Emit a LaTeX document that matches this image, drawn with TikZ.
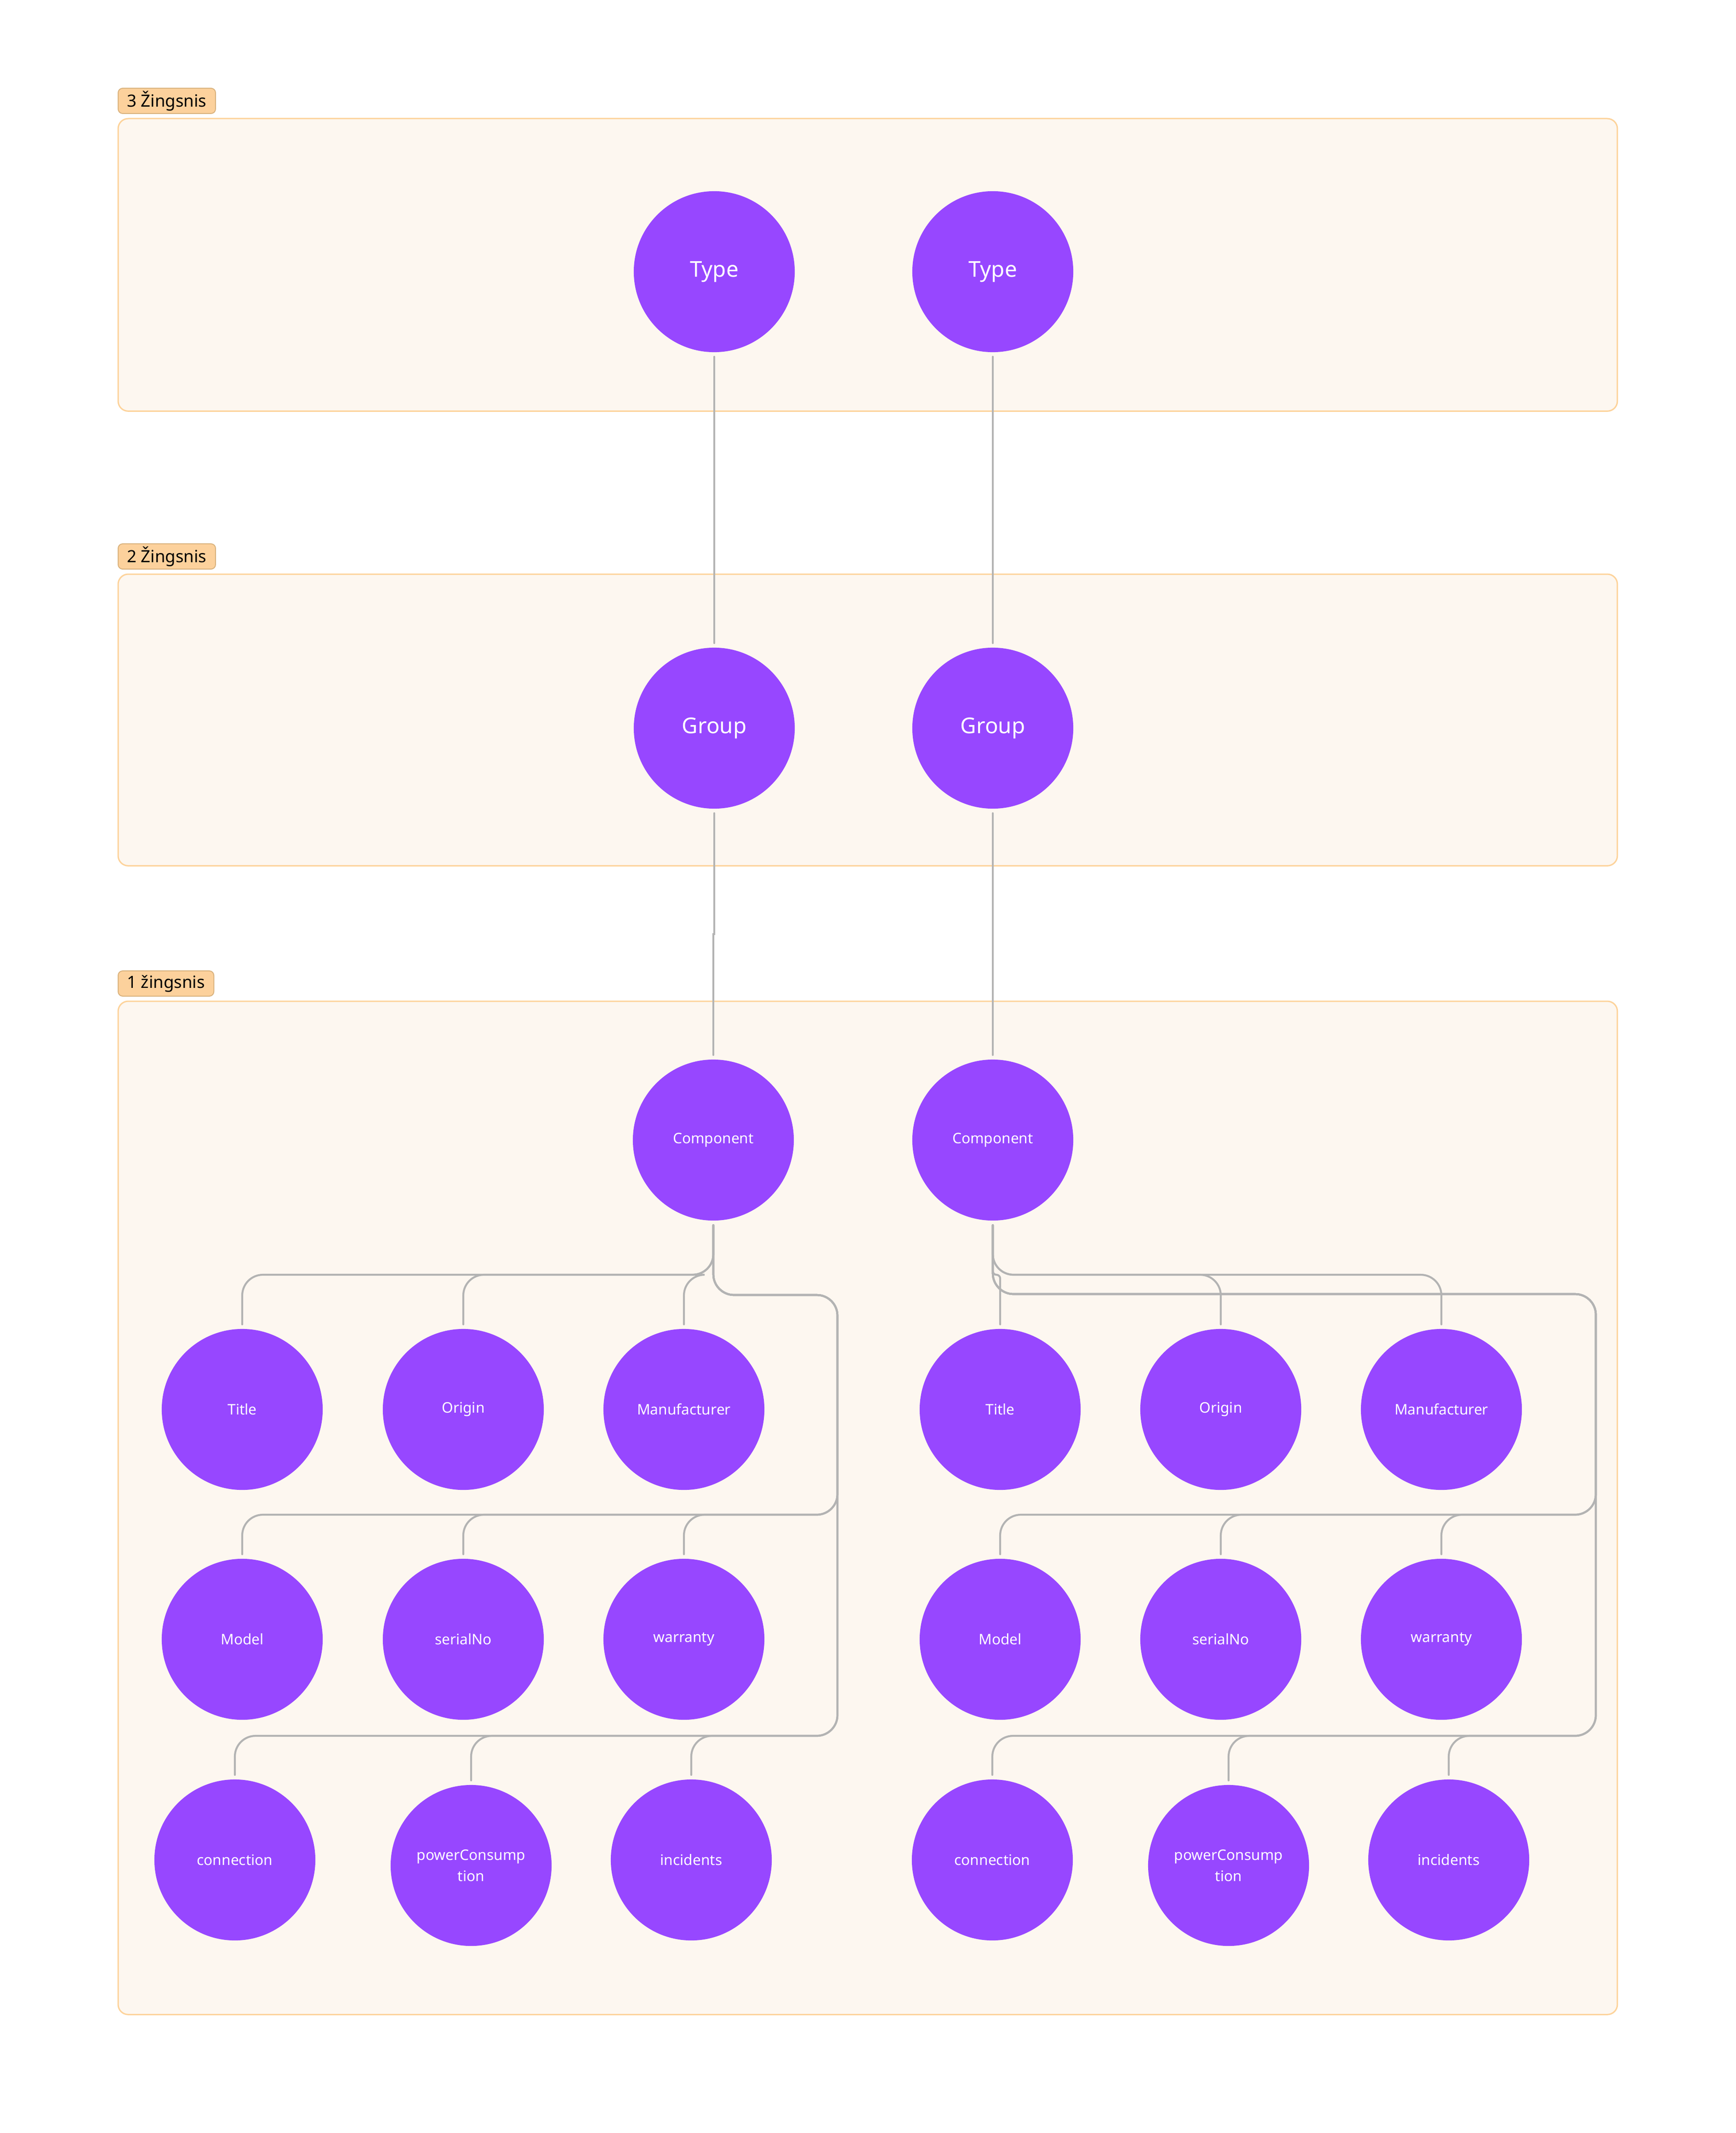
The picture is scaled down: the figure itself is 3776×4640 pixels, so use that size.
\documentclass[tikz,border=0pt]{standalone}
\usepackage{fontspec}
\setmainfont{Noto Sans}
\usetikzlibrary{positioning,calc}
\definecolor{nodeviolet}{HTML}{9747FF}
\definecolor{linkgray}{HTML}{B3B3B3}
\definecolor{framefill}{HTML}{FDF7F0}
\definecolor{frameline}{HTML}{FDD39B}
\definecolor{tagfill}{HTML}{FCD19C}
\definecolor{tagline}{HTML}{D9B27D}

\begin{document}
\begin{tikzpicture}[
  x=0.01cm, y=-0.01cm,
  every node/.style={font=\fontsize{9}{13}\selectfont},
  frame/.style={rectangle, draw=frameline, fill=framefill, line width=0.03cm, rounded corners=0.22cm, anchor=north west, minimum width=32.6cm, inner sep=0, outer sep=0},
  tag/.style={rectangle, draw=tagline, fill=tagfill, line width=0.02cm, rounded corners=0.1cm, inner xsep=0.195cm, inner ysep=0, minimum height=0.55cm, outer sep=0, text=black, font=\fontsize{10.4}{12}\selectfont},
  bubble/.style={circle, fill=nodeviolet, minimum size=3.5cm, inner sep=0, outer sep=0.1cm, text=white, align=center},
  big/.style={bubble, font=\fontsize{13.5}{16}\selectfont},
  link/.style={draw=linkgray, line width=0.042cm, line cap=round, rounded corners=0.45cm},
]
\useasboundingbox[fill=white] (0,0) rectangle (3776,4640);

% Step frames
\node[frame, minimum height=6.36cm] (f3) at (257,258) {};
\node[tag, above right=0.11cm and 0cm of f3.north west] (t3) {3 Žingsnis};
\node[frame, minimum height=6.34cm] (f2) at (257,1249) {};
\node[tag, above right=0.11cm and 0cm of f2.north west] (t2) {2 Žingsnis};
\node[frame, minimum height=22.03cm] (f1) at (257,2178) {};
\node[tag, above right=0.11cm and 0cm of f1.north west] (t1) {1 žingsnis};

% Types and groups
\node[big] (typeL) at (1554,591) {Type};
\node[big] (typeR) at (2160,591) {Type};
\node[big] (grpL) at (1554,1584) {Group};
\node[big] (grpR) at (2160,1584) {Group};

% Components
\node[bubble] (cmpL) at (1552,2480) {Component};
\node[bubble] (cmpR) at (2160,2480) {Component};

% Fields
\foreach \n/\t/\x in {titleL/Title/527, originL/Origin/1008, manufL/Manufacturer/1488,
                      titleR/Title/2176, originR/Origin/2656, manufR/Manufacturer/3136}
  \node[bubble] (\n) at (\x,3066) {\t};
\foreach \n/\t/\x in {modelL/Model/527, serialL/serialNo/1008, warrantyL/warranty/1488,
                      modelR/Model/2176, serialR/serialNo/2656, warrantyR/warranty/3136}
  \node[bubble] (\n) at (\x,3566) {\t};
\node[bubble] (connL) at (511,4046) {connection};
\node[bubble] (powerL) at (1025,4058) {powerConsump\\tion};
\node[bubble] (incL) at (1504,4046) {incidents};
\node[bubble] (connR) at (2159,4046) {connection};
\node[bubble] (powerR) at (2673,4058) {powerConsump\\tion};
\node[bubble] (incR) at (3152,4046) {incidents};

% Rails
\coordinate (rowA) at (0,2773);
\coordinate (rowB) at (0,3295);
\coordinate (rowC) at (0,3776);
\coordinate (busL) at (1822,2817);
\coordinate (busR) at (3472,2815);
\coordinate (jog) at (1553,2032);

% Links
\draw[link] (typeL) -- (grpL);
\draw[link] (typeR) -- (grpR);
\draw[link, sharp corners] (grpL.south) |- (jog) -| (cmpL.north);
\draw[link] (grpR) -- (cmpR);

\foreach \c in {titleL, originL, manufL}
  \draw[link] (cmpL.south) |- (\c.north |- rowA) -- (\c.north);
\draw[link, rounded corners=0.08cm] (cmpR.south) |- (titleR.north |- rowA) -- (titleR.north);
\foreach \c in {originR, manufR}
  \draw[link] (cmpR.south) |- (\c.north |- rowA) -- (\c.north);
\foreach \c in {modelL, serialL, warrantyL}
  \draw[link] (cmpL.south) |- (busL) |- (\c.north |- rowB) -- (\c.north);
\foreach \c in {modelR, serialR, warrantyR}
  \draw[link] (cmpR.south) |- (busR) |- (\c.north |- rowB) -- (\c.north);
\foreach \c in {connL, powerL, incL}
  \draw[link] (cmpL.south) |- (busL) |- (\c.north |- rowC) -- (\c.north);
\foreach \c in {connR, powerR, incR}
  \draw[link] (cmpR.south) |- (busR) |- (\c.north |- rowC) -- (\c.north);

\end{tikzpicture}
\end{document}
